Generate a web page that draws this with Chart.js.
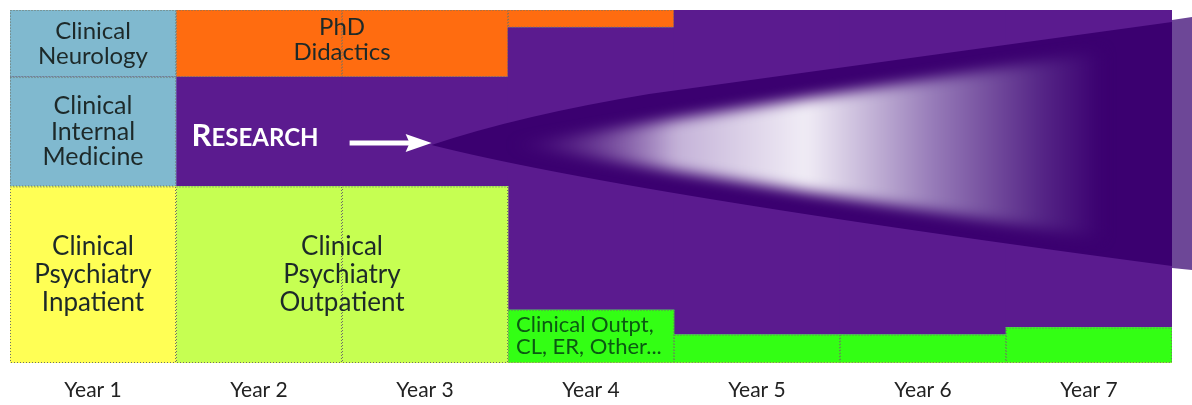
<!DOCTYPE html>
<html>
<head>
  <title>Training Timeline</title>
  <script src="https://cdn.jsdelivr.net/npm/chart.js"></script>
  <style>
    html, body { margin: 0; padding: 0; background: #fff; }
    #wrap { width: 1192px; height: 405px; }
  </style>
</head>
<body>
  <div id="wrap"><canvas id="timeline"></canvas></div>
  <script>
    // years along the bottom
    const years = ['Year 1', 'Year 2', 'Year 3', 'Year 4', 'Year 5', 'Year 6', 'Year 7'];

    // share of each year (out of 100), bottom to top
    const psychInpatient  = [50, 0, 0, 0, 0, 0, 0];
    const psychOutpatient = [0, 50, 50, 0, 0, 0, 0];
    const clinicalOther   = [0, 0, 0, 15, 8, 8, 10];
    const internalMed     = [31, 0, 0, 0, 0, 0, 0];
    const research        = [0, 31, 31, 80, 92, 92, 90];
    const neurology       = [19, 0, 0, 0, 0, 0, 0];
    const phdDidactics    = [0, 19, 19, 5, 0, 0, 0];

    // text inside the blocks
    const inpatientLabel  = ['Clinical', 'Psychiatry', 'Inpatient'];
    const outpatientLabel = ['Clinical', 'Psychiatry', 'Outpatient'];
    const otherLabel      = ['Clinical Outpt,', 'CL, ER, Other...'];
    const internalLabel   = ['Clinical', 'Internal', 'Medicine'];
    const neurologyLabel  = ['Clinical', 'Neurology'];
    const phdLabel        = ['PhD', 'Didactics'];

    const FONT = 'Lato, "Open Sans", sans-serif';
    const PURPLE = '#5b1b8f';
    const DARK = '#3b0070';

    const datasets = [
      { label: 'Clinical Psychiatry Inpatient', data: psychInpatient, backgroundColor: '#ffff55', lines: inpatientLabel, span: [0, 0], size: 26, lh: 28 },
      { label: 'Clinical Psychiatry Outpatient', data: psychOutpatient, backgroundColor: '#c6ff52', lines: outpatientLabel, span: [1, 2], size: 26, lh: 28 },
      { label: 'Clinical Outpt, CL, ER, Other', data: clinicalOther, backgroundColor: '#33ff14', lines: otherLabel, span: [3, 3], small: true },
      { label: 'Clinical Internal Medicine', data: internalMed, backgroundColor: '#80b9cf', lines: internalLabel, span: [0, 0], size: 25, lh: 25.5 },
      { label: 'Research', data: research, backgroundColor: PURPLE, plain: true },
      { label: 'Clinical Neurology', data: neurology, backgroundColor: '#80b9cf', lines: neurologyLabel, span: [0, 0], size: 24, lh: 25 },
      { label: 'PhD Didactics', data: phdDidactics, backgroundColor: '#ff6c10', lines: phdLabel, span: [1, 2], size: 24, lh: 25, lift: 4 }
    ].map(d => Object.assign(d, { borderWidth: 0, categoryPercentage: 1, barPercentage: 1 }));

    function barRect(el) {
      const top = Math.min(el.y, el.base), bottom = Math.max(el.y, el.base);
      return { left: el.x - el.width / 2, right: el.x + el.width / 2, top, bottom };
    }

    const decor = {
      id: 'decor',
      afterDatasetsDraw(chart) {
        const ctx = chart.ctx;
        const area = chart.chartArea;
        const xs = chart.scales.x;
        const w = area.right - area.left;

        // dotted outlines on clinical / didactic blocks
        ctx.save();
        ctx.setLineDash([1, 2]);
        ctx.lineWidth = 1;
        ctx.strokeStyle = '#6f7265';
        chart.data.datasets.forEach((ds, di) => {
          if (ds.plain) return;
          chart.getDatasetMeta(di).data.forEach((el, i) => {
            if (!ds.data[i]) return;
            const r = barRect(el);
            ctx.strokeRect(r.left + 0.5, r.top + 0.5, r.right - r.left - 1, r.bottom - r.top - 1);
          });
        });
        ctx.restore();

        // light strip beyond the right edge
        ctx.save();
        ctx.fillStyle = '#6d4797';
        ctx.beginPath();
        ctx.moveTo(area.right, area.top + 10);
        ctx.lineTo(chart.width, area.top + 7);
        ctx.lineTo(chart.width, area.top + 260);
        ctx.lineTo(area.right, area.top + 258);
        ctx.closePath();
        ctx.fill();

        // research wedge
        const ax = xs.getPixelForValue(2) + 0.04 * w;
        const ay = area.top + 135;
        const wedge = new Path2D();
        wedge.moveTo(ax - 40, ay);
        wedge.quadraticCurveTo(ax + 50, ay - 30, xs.getPixelForValue(3) + 0.05 * w, area.top + 84);
        wedge.lineTo(area.right, area.top + 12);
        wedge.lineTo(area.right, area.top + 256);
        wedge.quadraticCurveTo(ax + 150, ay + 48, ax - 40, ay);
        wedge.closePath();
        ctx.fillStyle = DARK;
        ctx.fill(wedge);

        // glowing inner cone, kept inside the wedge
        ctx.clip(wedge);
        const gx0 = ax + 40, gx1 = xs.getPixelForValue(6) + 0.01 * w;
        const g = ctx.createLinearGradient(gx0, 0, gx1, 0);
        g.addColorStop(0, 'rgba(80,20,130,0.15)');
        g.addColorStop(0.28, '#c4b2d8');
        g.addColorStop(0.5, '#f1edf6');
        g.addColorStop(0.72, '#9579b7');
        g.addColorStop(0.9, '#552586');
        g.addColorStop(1, DARK);
        ctx.filter = 'blur(7px)';
        ctx.fillStyle = g;
        ctx.beginPath();
        ctx.moveTo(gx0, ay);
        ctx.lineTo(gx1, area.top + 42);
        ctx.lineTo(gx1, area.top + 228);
        ctx.closePath();
        ctx.fill();
        ctx.filter = 'none';
        ctx.restore();

        // block labels
        ctx.save();
        ctx.textBaseline = 'middle';
        chart.data.datasets.forEach((ds, di) => {
          if (!ds.lines) return;
          const els = chart.getDatasetMeta(di).data;
          const a = barRect(els[ds.span[0]]), b = barRect(els[ds.span[1]]);
          const top = Math.min(a.top, b.top), bottom = Math.max(a.bottom, b.bottom);
          if (ds.small) {
            ctx.font = '22px ' + FONT;
            ctx.fillStyle = '#0b5a12';
            ctx.textAlign = 'left';
            ds.lines.forEach((t, k) => ctx.fillText(t, a.left + 8, top + 15 + k * 22));
            return;
          }
          ctx.font = ds.size + 'px ' + FONT;
          ctx.fillStyle = '#1d2929';
          ctx.textAlign = 'center';
          const cx = (a.left + b.right) / 2;
          const cy = (top + bottom) / 2 - (ds.lift || 0);
          const y0 = cy - (ds.lines.length - 1) * ds.lh / 2;
          ds.lines.forEach((t, k) => ctx.fillText(t, cx, y0 + k * ds.lh));
        });

        // RESEARCH heading in small caps, with arrow
        const rx = xs.getPixelForValue(1) - 0.058 * w;
        const ry = area.top + 136;
        ctx.fillStyle = '#ffffff';
        ctx.textAlign = 'left';
        ctx.textBaseline = 'alphabetic';
        ctx.font = 'bold 31px ' + FONT;
        ctx.fillText('R', rx, ry);
        const rw = ctx.measureText('R').width;
        ctx.font = 'bold 24px ' + FONT;
        ctx.fillText('ESEARCH', rx + rw, ry);
        const ay2 = area.top + 133;
        ctx.strokeStyle = '#ffffff';
        ctx.lineWidth = 5;
        ctx.beginPath();
        ctx.moveTo(rx + 158, ay2);
        ctx.lineTo(rx + 222, ay2);
        ctx.stroke();
        ctx.beginPath();
        ctx.moveTo(rx + 240, ay2);
        ctx.lineTo(rx + 214, ay2 - 9);
        ctx.lineTo(rx + 218, ay2);
        ctx.lineTo(rx + 214, ay2 + 9);
        ctx.closePath();
        ctx.fill();
        ctx.restore();
      }
    };

    new Chart(document.getElementById('timeline'), {
      type: 'bar',
      data: { labels: years, datasets: datasets },
      options: {
        responsive: true,
        maintainAspectRatio: false,
        animation: false,
        layout: { padding: { left: 10, right: 20, top: 10, bottom: 4 } },
        plugins: { legend: { display: false }, tooltip: { enabled: false } },
        scales: {
          x: {
            stacked: true,
            grid: { display: false },
            border: { display: false },
            ticks: { color: '#222', font: { family: FONT, size: 21 }, padding: 7 },
            afterFit(scale) { scale.height = 38; }
          },
          y: { stacked: true, display: false, min: 0, max: 100 }
        }
      },
      plugins: [decor]
    });
  </script>
</body>
</html>
